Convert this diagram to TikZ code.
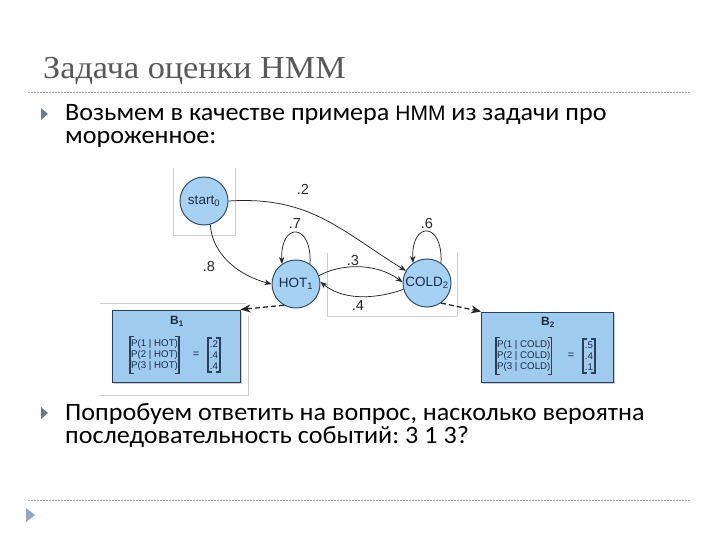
\documentclass[tikz,border=0pt]{standalone}
\usepackage{fontspec}
\setmainfont{Carlito}[FakeStretch=1.045]
\newfontfamily\titlefont{Liberation Serif}[FakeStretch=1.07]
\newfontfamily\arialf{Liberation Sans}
\usetikzlibrary{arrows.meta,shadows}
\frenchspacing
\definecolor{titlegray}{HTML}{595959}
\definecolor{rulegray}{HTML}{A6A6A6}
\definecolor{nodeblue}{HTML}{A6D1F2}
\definecolor{boxblue}{HTML}{9ECBEE}
\definecolor{nodeedge}{HTML}{34506F}
\definecolor{boxedge}{HTML}{2A3F5C}
\definecolor{nodetext}{HTML}{1C2B46}
\definecolor{bulletgray}{HTML}{6E7B8C}
\definecolor{bulletblue}{HTML}{8EA8C6}
\definecolor{framegray}{HTML}{CCCCCC}
\tikzset{
  state/.style={circle, draw=nodeedge, line width=1pt, fill=nodeblue, minimum size=48pt, inner sep=0pt, font=\arialf\fontsize{13.5}{15}\selectfont, text=nodetext},
  emitbox/.style={draw=boxedge, line width=1pt, fill=boxblue, inner sep=0pt,
    drop shadow={shadow xshift=1.5pt, shadow yshift=-2pt, opacity=0.4}},
  edge/.style={-{Stealth[length=7pt,width=5.5pt]}, line width=0.75pt, draw=black!85},
  dashedge/.style={-{Stealth[length=10pt,width=8pt]}, line width=1.3pt, dash pattern=on 5pt off 3pt, draw=black!85},
  plabel/.style={font=\arialf\fontsize{14.5}{16}\selectfont, text=black!85},
  frame/.style={draw=framegray, line width=0.8pt},
  hrule/.style={draw=rulegray, line width=0.5pt, dash pattern=on 2pt off 1pt},
  bodytext/.style={anchor=base west, inner sep=0pt, font=\fontsize{25}{28}\selectfont\frenchspacing},
  bullet/.style={fill=bulletgray, draw=none},
  mcol/.style={inner sep=1pt, align=left, font=\arialf\fontsize{9.7}{10.7}\selectfont, text=nodetext},
  btitle/.style={font=\arialf\bfseries\fontsize{12}{14}\selectfont, text=nodetext},
  brk/.style={draw=boxedge, line width=1.6pt}
}
\begin{document}
\begin{tikzpicture}[x=1pt,y=-1pt]
\useasboundingbox[fill=white] (0,0) rectangle (720,540);

% title
\node[anchor=base west, inner sep=0pt, font=\titlefont\fontsize{32}{36}\selectfont, text=titlegray] (title) at (43,79) {Задача оценки HMM};
\draw[hrule] (28,92) -- (690,92);

% bullet 1
\fill[bullet] (41,108) -- (48,114) -- (41,120) -- cycle;
\node[bodytext] (l1) at (65,121) {Возьмем в качестве примера {\arialf\fontsize{21}{24}\selectfont HMM} из задачи про};
\node[bodytext] (l2) at (65,144) {мороженное:};

% image frame artefacts
\draw[frame] (173,168) -- (173,235) -- (235,235) -- (235,168);
\draw[frame] (327,253) -- (327,316);
\draw[frame] (457,253) -- (457,316);
\draw[frame] (327,316) -- (457,316);
\draw[frame] (100,303) -- (246,303);
\draw[frame] (248,316) -- (248,395) -- (100,395);

% states
\node[state] (start) at (204,201) {start\textsubscript{0}};
\node[state] (hot) at (296,284) {HOT\textsubscript{1}};
\node[state] (cold) at (427,283) {COLD\textsubscript{2}};

% emission box B1
\node[emitbox, minimum width=128pt, minimum height=72pt] (b1) at (176,346) {};
\node[btitle] (b1t) at (177,321) {B\textsubscript{1}};
\node[mcol, anchor=west] (b1p) at (130,355) {P(1 | HOT)\\P(2 | HOT)\\P(3 | HOT)};
\node[mcol, font=\arialf\fontsize{11}{12}\selectfont] (b1eq) at (196,355) {=};
\node[mcol] (b1v) at (214,355) {.2\\.4\\.4};
\draw[brk] ([xshift=4pt,yshift=2pt]b1p.north west) -- ([yshift=2pt]b1p.north west) -- ([yshift=-2pt]b1p.south west) -- ([xshift=4pt,yshift=-2pt]b1p.south west);
\draw[brk] ([xshift=-4pt,yshift=2pt]b1p.north east) -- ([yshift=2pt]b1p.north east) -- ([yshift=-2pt]b1p.south east) -- ([xshift=-4pt,yshift=-2pt]b1p.south east);
\draw[brk] ([xshift=3pt,yshift=2pt]b1v.north west) -- ([xshift=-1pt,yshift=2pt]b1v.north west) -- ([xshift=-1pt,yshift=-2pt]b1v.south west) -- ([xshift=3pt,yshift=-2pt]b1v.south west);
\draw[brk] ([xshift=-3pt,yshift=2pt]b1v.north east) -- ([xshift=1pt,yshift=2pt]b1v.north east) -- ([xshift=1pt,yshift=-2pt]b1v.south east) -- ([xshift=-3pt,yshift=-2pt]b1v.south east);

% emission box B2
\node[emitbox, minimum width=132pt, minimum height=70pt] (b2) at (547.5,347) {};
\node[btitle] (b2t) at (548,322) {B\textsubscript{2}};
\node[mcol, anchor=west] (b2p) at (496,356) {P(1 | COLD)\\P(2 | COLD)\\P(3 | COLD)};
\node[mcol, font=\arialf\fontsize{11}{12}\selectfont] (b2eq) at (571,356) {=};
\node[mcol] (b2v) at (589,356) {.5\\.4\\.1};
\draw[brk] ([xshift=4pt,yshift=2pt]b2p.north west) -- ([yshift=2pt]b2p.north west) -- ([yshift=-2pt]b2p.south west) -- ([xshift=4pt,yshift=-2pt]b2p.south west);
\draw[brk] ([xshift=-4pt,yshift=2pt]b2p.north east) -- ([yshift=2pt]b2p.north east) -- ([yshift=-2pt]b2p.south east) -- ([xshift=-4pt,yshift=-2pt]b2p.south east);
\draw[brk] ([xshift=3pt,yshift=2pt]b2v.north west) -- ([xshift=-1pt,yshift=2pt]b2v.north west) -- ([xshift=-1pt,yshift=-2pt]b2v.south west) -- ([xshift=3pt,yshift=-2pt]b2v.south west);
\draw[brk] ([xshift=-3pt,yshift=2pt]b2v.north east) -- ([xshift=1pt,yshift=2pt]b2v.north east) -- ([xshift=1pt,yshift=-2pt]b2v.south east) -- ([xshift=-3pt,yshift=-2pt]b2v.south east);

% transitions
\draw[edge] (start.-75) .. controls (212,255) and (240,276) .. (hot.west);
\node[plabel] (l8) at (209,267) {.8};
\draw[edge] (start.east) .. controls (310,196) and (340,230) .. (cold.150);
\node[plabel] (l2) at (303,189) {.2};
\draw[edge] (hot.55) .. controls (312,222) and (280,222) .. (hot.125);
\node[plabel] (l7) at (295,224) {.7};
\draw[edge] (cold.55) .. controls (443,221) and (411,221) .. (cold.125);
\node[plabel] (l6) at (427,224) {.6};
\draw[edge] (hot.20) .. controls (340,264) and (375,262) .. (cold.178);
\node[plabel] (l3) at (353,261) {.3};
\draw[edge] (cold.-165) .. controls (380,298) and (345,302) .. (hot.5);
\node[plabel] (l4) at (358,306) {.4};

% emissions
\draw[dashedge] (hot.-120) -- (b1.north east);
\draw[dashedge] (cold.-55) -- (b2.north west);

% bullet 2
\fill[bullet] (41,407) -- (48,413) -- (41,419) -- cycle;
\node[bodytext] (l3a) at (65,420) {Попробуем ответить на вопрос, насколько вероятна};
\node[bodytext] (l4a) at (65,443.5) {последовательность событий: 3 1 3?};

% footer
\draw[hrule] (28,500) -- (690,500);
\fill[bulletblue] (26,508) -- (35,515) -- (26,522) -- cycle;
\end{tikzpicture}
\end{document}
